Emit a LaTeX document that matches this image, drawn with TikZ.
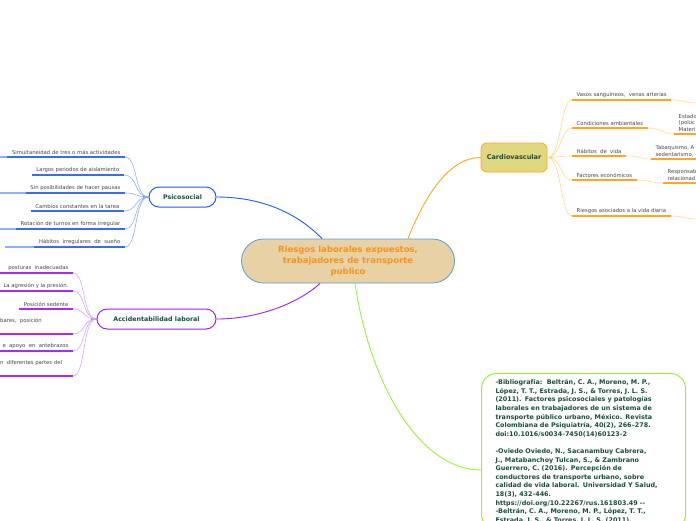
\documentclass[tikz,border=0pt]{standalone}
\usepackage{fontspec}
\setmainfont{DejaVu Sans}
\definecolor{coreFill}{HTML}{E8D1A4}
\definecolor{coreLine}{HTML}{5B9BD5}
\definecolor{coreText}{HTML}{F7941D}
\definecolor{topicText}{HTML}{1B4D3E}
\definecolor{leafText}{HTML}{444444}
\definecolor{psiMain}{HTML}{1F5CFF}
\definecolor{psiBarC}{HTML}{3A6BF0}
\definecolor{psiLight}{HTML}{8FB0FF}
\definecolor{accMain}{HTML}{A020F0}
\definecolor{accBarC}{HTML}{A52CF0}
\definecolor{accLight}{HTML}{D6A6FF}
\definecolor{cardMain}{HTML}{FFA71F}
\definecolor{cardLight}{HTML}{FFD890}
\definecolor{cardFill}{HTML}{E0D77F}
\definecolor{bibLine}{HTML}{9CF03C}
\tikzset{
  leaf/.style={anchor=south east, inner xsep=4.5pt, inner ysep=2pt, text=leafText,
    font=\fontsize{5.3}{6.8}\selectfont},
  topic/.style={fill=white, line width=1pt, rounded corners=10pt, minimum height=20pt,
    text=topicText, font=\fontsize{6.3}{8}\selectfont\bfseries},
  psiLink/.style={draw=psiLight, line width=0.6pt},
  psiBar/.style={draw=psiBarC, line width=1.8pt},
  accLink/.style={draw=accLight, line width=0.6pt},
  accBar/.style={draw=accBarC, line width=1.8pt},
  cardLink/.style={draw=cardLight, line width=0.6pt},
  cardBar/.style={draw=cardMain, line width=1.5pt}
}
\begin{document}
\begin{tikzpicture}[x=1pt,y=-1pt]
    \useasboundingbox (0,0) rectangle (696,520);
    \clip (0,0) rectangle (696,520);

    % Central topic
    \node[draw=coreLine, fill=coreFill, line width=0.8pt, rounded corners=22pt,
      minimum width=213pt, minimum height=44pt, align=center, text=coreText,
      font=\fontsize{8.5}{11}\selectfont\bfseries] (root) at (348,261)
      {Riesgos laborales expuestos,\\trabajadores de transporte\\publico};

    % Main topics
    \node[topic, draw=psiMain, minimum width=67pt] (psico) at (182.5,197) {Psicosocial};
    \node[topic, draw=accMain, minimum width=119pt] (acc) at (156.5,319) {Accidentabilidad laboral};
    \node[draw=cardMain, fill=cardFill, line width=0.8pt, rounded corners=6pt,
      minimum width=66pt, minimum height=29pt, text=topicText,
      font=\fontsize{6.5}{8}\selectfont\bfseries] (cardio) at (514,157.5) {Cardiovascular};

    % Bibliography box
    \node[anchor=north west, draw=bibLine, line width=1pt, rounded corners=15pt, fill=white,
      text width=176pt, inner xsep=14pt, inner ysep=6pt, align=left, text=topicText,
      font=\fontsize{6.4}{8.6}\selectfont\bfseries] (bib) at (481,373)
      {-Bibliografía:\ \ Beltrán, C. A., Moreno, M. P.,\\
       López, T. T., Estrada, J. S., \& Torres, J. L. S.\\
       (2011). Factores psicosociales y patologías\\
       laborales en trabajadores de un sistema de\\
       transporte público urbano, México. Revista\\
       Colombiana de Psiquiatría, 40(2), 266–278.\\
       doi:10.1016/s0034-7450(14)60123-2\\[8.6pt]
       -Oviedo Oviedo, N., Sacanambuy Cabrera,\\
       J., Matabanchoy Tulcan, S., \& Zambrano\\
       Guerrero, C. (2016). Percepción de\\
       conductores de transporte urbano, sobre\\
       calidad de vida laboral. Universidad Y Salud,\\
       18(3), 432-446.\\
       https://doi.org/10.22267/rus.161803.49 -{}-\\
       -Beltrán, C. A., Moreno, M. P., López, T. T.,\\
       Estrada, J. S., \& Torres, J. L. S. (2011).};

    % Links from the central topic
    \draw[psiMain, line width=0.9pt] ([xshift=-26pt]root.north) .. controls (300,216) and (266,197) .. (psico.east);
    \draw[accMain, line width=0.9pt] ([xshift=-28pt]root.south) .. controls (300,302) and (260,319) .. (acc.east);
    \draw[cardMain, line width=0.9pt] ([xshift=60pt]root.north) .. controls (425,195) and (450,157) .. (cardio.west);
    \draw[bibLine, line width=0.9pt] ([xshift=7pt]root.south) .. controls (370,385) and (420,470) .. ([yshift=-97pt]bib.north west);

    % Psicosocial subtopics
    \node[leaf] (p1) at (125,157) {Simultaneidad de tres o más actividades};
    \node[leaf] (p2) at (124,175) {Largos periodos de aislamiento};
    \node[leaf] (p3) at (125,193) {Sin posibilidades de hacer pausas};
    \node[leaf] (p4) at (124,211) {Cambios constantes en la tarea};
    \node[leaf] (p5) at (125,229) {Rotación de turnos en forma irregular};
    \node[leaf] (p6) at (125,247) {Hábitos\ \ irregulares\ \ de\ \ sueño};
    \draw[psiBarC, line width=1.5pt] (psico.west) -- ++(-6,0);
    \draw[psiLink] (psico.west) .. controls (134,197) and (138,157) .. (p1.south east);
    \draw[psiLink] (psico.west) .. controls (134,197) and (138,175) .. (p2.south east);
    \draw[psiLink] (psico.west) .. controls (134,197) and (138,193) .. (p3.south east);
    \draw[psiLink] (psico.west) .. controls (134,197) and (138,211) .. (p4.south east);
    \draw[psiLink] (psico.west) .. controls (134,197) and (138,229) .. (p5.south east);
    \draw[psiLink] (psico.west) .. controls (134,197) and (138,247) .. (p6.south east);
    \draw[psiBar] (p1.south west) -- (p1.south east);
    \draw[psiBar] (p2.south west) -- (p2.south east);
    \draw[psiBar] (p3.south west) -- (p3.south east);
    \draw[psiBar] (p4.south west) -- (p4.south east);
    \draw[psiBar] (p5.south west) -- (p5.south east);
    \draw[psiBar] (p6.south west) -- (p6.south east);
    \draw[psiLink, line width=1.5pt] (p1.south west) -- ++(-20,0);
    \draw[psiLink, line width=1.5pt] (p3.south west) -- ++(-30,0);
    \draw[psiLink, line width=1.5pt] (p5.south west) -- ++(-20,0);
    \draw[psiLink, line width=1.5pt] (p6.south west) -- (5,247);

    % Accidentabilidad subtopics
    \node[leaf] (a1) at (73,273) {posturas\ \ inadecuadas};
    \node[leaf] (a2) at (73,291) {La agresión y la presión.};
    \node[leaf] (a3) at (73,309) {Posición sedente};
    \node[leaf, anchor=north west, inner sep=0pt] (a4) at (0,318.5) {bares,\ \ posición};
    \coordinate (a4end) at (73,334);
    \node[leaf] (a5) at (73,351) {e\ \ apoyo\ \ en\ \ antebrazos};
    \node[leaf, anchor=north west, inner sep=0pt] (a6) at (0,360.5) {n\ \ diferentes partes del};
    \coordinate (a6end) at (73,376);
    \draw[accMain, line width=1.5pt] (acc.west) -- ++(-6,0);
    \draw[accLink] (acc.west) .. controls (82,319) and (86,273) .. (a1.south east);
    \draw[accLink] (acc.west) .. controls (82,319) and (86,291) .. (a2.south east);
    \draw[accLink] (acc.west) .. controls (82,319) and (86,309) .. (a3.south east);
    \draw[accLink] (acc.west) .. controls (82,319) and (86,334) .. (a4end);
    \draw[accLink] (acc.west) .. controls (82,319) and (86,351) .. (a5.south east);
    \draw[accLink] (acc.west) .. controls (82,319) and (86,376) .. (a6end);
    \draw[accBar] (a1.south east) -- ++(-80,0);
    \draw[accBar] (a2.south east) -- ++(-80,0);
    \draw[accBar] (a3.south west) -- (a3.south east);
    \draw[accBar] (a4end) -- ++(-80,0);
    \draw[accBar] (a5.south east) -- ++(-80,0);
    \draw[accBar] (a6end) -- ++(-80,0);

    % Cardiovascular subtopics
    \node[leaf, anchor=south west] (c1) at (572,100) {Vasos sanguíneos,\ \ venas arterias};
    \node[leaf, anchor=south west] (c2) at (572,128) {Condiciones ambientales};
    \node[leaf, anchor=south west] (c3) at (572,156) {Hábitos\ \ de\ \ vida};
    \node[leaf, anchor=south west] (c4) at (572,180) {Factores económicos};
    \node[leaf, anchor=south west] (c5) at (572,216) {Riesgos asociados a la vida diaria};
    \draw[cardMain, line width=1.2pt] (cardio.east) -- ++(5,0);
    \draw[cardLink] (cardio.east) .. controls (562,157) and (560,100) .. (c1.south west);
    \draw[cardLink] (cardio.east) .. controls (562,157) and (560,128) .. (c2.south west);
    \draw[cardLink] (cardio.east) .. controls (562,157) and (560,156) .. (c3.south west);
    \draw[cardLink] (cardio.east) .. controls (562,157) and (560,180) .. (c4.south west);
    \draw[cardLink] (cardio.east) .. controls (562,157) and (560,216) .. (c5.south west);
    \draw[cardBar] (c1.south west) -- (c1.south east);
    \draw[cardBar] (c2.south west) -- (c2.south east);
    \draw[cardBar] (c3.south west) -- (c3.south east);
    \draw[cardBar] (c4.south west) -- (c4.south east);
    \draw[cardBar] (c5.south west) -- (c5.south east);

    % Cardiovascular details (cut at the right edge)
    \node[leaf, anchor=south west, align=left] (g2) at (674,134) {Estado\\(poluc\\Materi};
    \node[leaf, anchor=south west, align=left] (g3) at (651,159) {Tabaquismo, A\\sedentarismo,};
    \node[leaf, anchor=south west, align=left] (g4) at (663,183) {Responsab\\relacionad};
    \coordinate (g1) at (697,103);
    \coordinate (g5) at (697,219);
    \draw[cardLink] (c1.south east) .. controls (684,100) and (686,103) .. (g1);
    \draw[cardLink] (c2.south east) .. controls (662,128) and (662,134) .. (g2.south west);
    \draw[cardLink] (c3.south east) .. controls (640,156) and (640,159) .. (g3.south west);
    \draw[cardLink] (c4.south east) .. controls (651,180) and (651,183) .. (g4.south west);
    \draw[cardLink] (c5.south east) .. controls (684,216) and (686,219) .. (g5);
    \draw[cardBar] (g2.south west) -- ++(30,0);
    \draw[cardBar] (g3.south west) -- ++(50,0);
    \draw[cardBar] (g4.south west) -- ++(40,0);
\end{tikzpicture}
\end{document}
